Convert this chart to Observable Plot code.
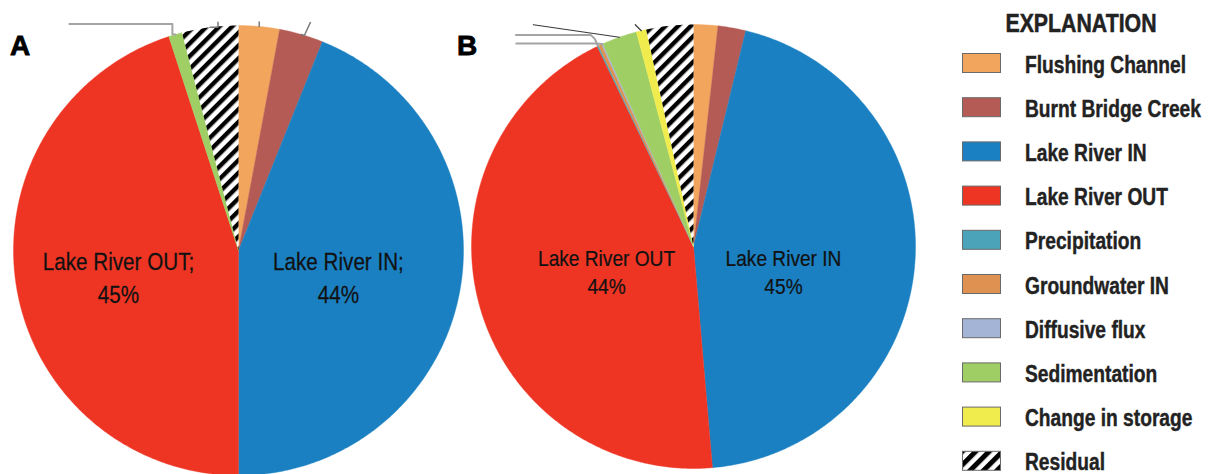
<!DOCTYPE html>
<html><head><meta charset="utf-8">
<script src="https://cdn.jsdelivr.net/npm/d3@7"></script>
<script src="https://cdn.jsdelivr.net/npm/@observablehq/plot@0.6"></script>
<style>
html,body{margin:0;padding:0;background:#fff;}
#wrap{position:relative;width:1216px;height:474px;overflow:hidden;}
#chart{position:absolute;left:0;top:0;}
#legend{position:absolute;left:940px;top:0;}
</style></head>
<body><div id="wrap"><div id="chart"></div><div id="legend"></div></div>
<script>
// ---------- data ----------
const categories = ["Flushing Channel","Burnt Bridge Creek","Lake River IN","Lake River OUT","Precipitation","Groundwater IN","Diffusive flux","Sedimentation","Change in storage","Residual"];
const colors = ["#f2a55c","#b55b55","#1a80c2","#ee3524","#4aa3b8","#de9150","#a3b4d6","#9fce64","#f1ec4e","url(#hatch)"];
// percent of water budget, in legend order (clockwise from 12 o'clock)
const valuesA = [2.93, 3.15, 43.92, 44.99, 0, 0, 0, 0.97, 0, 4.04];
const valuesB = [1.76, 2.02, 44.86, 44.23, 0.10, 0.24, 0.10, 2.55, 0.72, 3.42];
const panelLabels = ["A", "B"];
const labelledCats = ["Lake River OUT", "Lake River IN"];
const legendTitle = "EXPLANATION";

// ---------- layout ----------
const pieLayout = {
  A: {cx: 238, cy: 250, r: 225, sep: ";", fs: 24, lh: 1.375, sx: 0.86, rho: {"Lake River OUT": 0.54, "Lake River IN": 0.4525}, labelDy: 25.8, panelX: 10},
  B: {cx: 693, cy: 246, r: 222, sep: "", fs: 22.5, lh: 1.245, sx: 0.85, rho: {"Lake River OUT": 0.406, "Lake River IN": 0.4066}, labelDy: 24.8, panelX: 457}
};
// leader lines (cropped labels): start on rim at slice mid-angle, then relative steps
const leaders = [
  {pie: "A", cat: "Sedimentation", style: "gray", steps: [[-3, 0], [0, -10.5], [-103, 0]]},
  {pie: "A", cat: "Residual", style: "tick", steps: [[8, 0], [0, -5]]},
  {pie: "A", cat: "Flushing Channel", style: "tick", steps: [[0, -4.5]]},
  {pie: "A", cat: "Burnt Bridge Creek", style: "tick", steps: [[3, 1], [6, -13]]},
  {pie: "B", cat: "Sedimentation", style: "dark", steps: [[-86, -12.5]]},
  {pie: "B", cat: "Change in storage", style: "dark", steps: [[-3, -3], [-3, -3]]},
  {pie: "B", cat: "Precipitation", style: "gray", steps: [[-3, -7], [-4, -4], [-75, 0]]},
  {pie: "B", cat: "Diffusive flux", style: "gray", steps: [[-8, -0.5], [-78, 0]]}
];

const FONT = "'Liberation Sans',Arial,sans-serif";

function buildSlices(pieId, values) {
  const total = d3.sum(values);
  let acc = 0;
  const out = [];
  categories.forEach((cat, i) => {
    const v = values[i];
    if (!v) return;
    const a0 = acc / total * 2 * Math.PI; acc += v;
    const a1 = acc / total * 2 * Math.PI;
    out.push({pie: pieId, cat, value: v, a0, a1, mid: (a0 + a1) / 2});
  });
  return out;
}
function polar(L, a, rr) { return [L.cx + rr * Math.sin(a), L.cy - rr * Math.cos(a)]; }
function slicePts(s) {
  const L = pieLayout[s.pie];
  const n = Math.max(2, Math.ceil((s.a1 - s.a0) / (Math.PI / 360)));
  const pts = [{x: L.cx, y: L.cy}];
  for (let k = 0; k <= n; k++) {
    const a = s.a0 + (s.a1 - s.a0) * k / n;
    const [x, y] = polar(L, a, L.r);
    pts.push({x, y});
  }
  pts.push({x: L.cx, y: L.cy});
  return pts.map(p => ({...p, key: s.pie + "|" + s.cat, cat: s.cat}));
}

const slices = [...buildSlices("A", valuesA), ...buildSlices("B", valuesB)];
const solidPts = slices.filter(s => s.cat !== "Residual").flatMap(slicePts);
const hatchPts = slices.filter(s => s.cat === "Residual").flatMap(slicePts);

const leaderPts = leaders.flatMap((ld, i) => {
  const s = slices.find(d => d.pie === ld.pie && d.cat === ld.cat);
  const L = pieLayout[ld.pie];
  let [x, y] = polar(L, s.mid, L.r);
  const pts = [{x, y}];
  for (const [dx, dy] of ld.steps) { x += dx; y += dy; pts.push({x, y}); }
  return pts.map(p => ({...p, id: i, style: ld.style}));
});

const labels = slices.filter(s => labelledCats.includes(s.cat)).map(s => {
  const L = pieLayout[s.pie];
  return {
    pie: s.pie,
    x: L.cx + L.rho[s.cat] * L.r * Math.sin(s.mid),
    y: L.cy + L.labelDy,
    text: `${s.cat}${L.sep}\n${Math.round(s.value)}%`
  };
});

const chart = Plot.plot({
  width: 940, height: 474, margin: 0,
  style: {background: "transparent", overflow: "visible"},
  x: {type: "linear", domain: [0, 940], range: [0, 940], axis: null},
  y: {type: "linear", domain: [0, 474], range: [0, 474], axis: null},
  color: {domain: categories.slice(0, 9), range: colors.slice(0, 9)},
  marks: [
    Plot.line(solidPts, {x: "x", y: "y", z: "key", fill: "cat", stroke: "cat", strokeWidth: 0.4, curve: "linear"}),
    Plot.line(hatchPts, {x: "x", y: "y", z: "key", fill: "url(#hatch)", stroke: "none", curve: "linear"}),
    Plot.line(leaderPts.filter(d => d.style === "gray"), {x: "x", y: "y", z: "id", stroke: "#a4a4a4", strokeWidth: 2, curve: "linear"}),
    Plot.line(leaderPts.filter(d => d.style === "tick"), {x: "x", y: "y", z: "id", stroke: "#7a7a7a", strokeWidth: 1.5, curve: "linear"}),
    Plot.line(leaderPts.filter(d => d.style === "dark"), {x: "x", y: "y", z: "id", stroke: "#3a3a3a", strokeWidth: 1.2, curve: "linear"}),
    ...["A", "B"].map(p => Plot.text(labels.filter(d => d.pie === p), {
      x: "x", y: "y", text: "text", fontSize: pieLayout[p].fs, lineHeight: pieLayout[p].lh,
      fontFamily: FONT, fill: "#111", textAnchor: "middle", lineAnchor: "middle",
      stroke: "#111", strokeWidth: 0.25,
      className: "pielabel-" + p
    }))
  ]
});

// hatch pattern
const svgSel = d3.select(chart);
const defs = svgSel.insert("defs", ":first-child");
const pat = defs.append("pattern").attr("id", "hatch").attr("patternUnits", "userSpaceOnUse")
  .attr("width", 9).attr("height", 9).attr("patternTransform", "rotate(45)");
pat.append("rect").attr("width", 9).attr("height", 9).attr("fill", "#fff");
pat.append("rect").attr("width", 4.4).attr("height", 9).attr("fill", "#000");

// panel letters
panelLabels.forEach(p => {
  svgSel.append("text").attr("x", pieLayout[p].panelX).attr("y", 55).attr("text-anchor", "start")
    .attr("font-family", "'Liberation Sans',Arial,sans-serif").attr("font-weight", "bold")
    .attr("font-size", 28).attr("fill", "#000").attr("stroke", "#000").attr("stroke-width", 0.8).text(p);
});
document.getElementById("chart").appendChild(chart);

// condense pie labels horizontally (narrow typeface look) about each label's centre
["A", "B"].forEach(p => {
  const sx = pieLayout[p].sx;
  svgSel.selectAll(".pielabel-" + p + " text").each(function() {
    const bb = this.getBBox();
    const c = bb.x + bb.width / 2;
    const tf = this.getAttribute("transform") || "";
    this.setAttribute("transform", `${tf} translate(${c},0) scale(${sx},1) translate(${-c},0)`);
  });
});

// ---------- legend ----------
const lg = d3.select("#legend").append("svg").attr("width", 276).attr("height", 474);
const ldefs = lg.append("defs");
const lpat = ldefs.append("pattern").attr("id", "hatchL").attr("patternUnits", "userSpaceOnUse")
  .attr("width", 9.5).attr("height", 9.5).attr("patternTransform", "rotate(45)");
lpat.append("rect").attr("width", 9.5).attr("height", 9.5).attr("fill", "#fff");
lpat.append("rect").attr("width", 5).attr("height", 9.5).attr("fill", "#000");
lg.append("text").attr("transform", "translate(141,32) scale(0.82,1)").attr("text-anchor", "middle")
  .attr("font-family", FONT).attr("font-weight", "bold").attr("font-size", 26).attr("fill", "#222")
  .attr("stroke", "#222").attr("stroke-width", 0.5).text(legendTitle);
categories.forEach((cat, i) => {
  const y0 = 53.5 + i * 44.2;
  lg.append("rect").attr("x", 22.5).attr("y", y0).attr("width", 38).attr("height", 19)
    .attr("fill", cat === "Residual" ? "url(#hatchL)" : colors[i]).attr("stroke", "#6a6a6a").attr("stroke-width", 1);
  lg.append("text").attr("transform", `translate(85,${y0 + 19}) scale(0.835,1)`).attr("font-family", FONT).attr("font-weight", "bold")
    .attr("font-size", 23).attr("fill", "#222").attr("stroke", "#222").attr("stroke-width", 0.4).text(cat);
});
</script>
</body></html>
